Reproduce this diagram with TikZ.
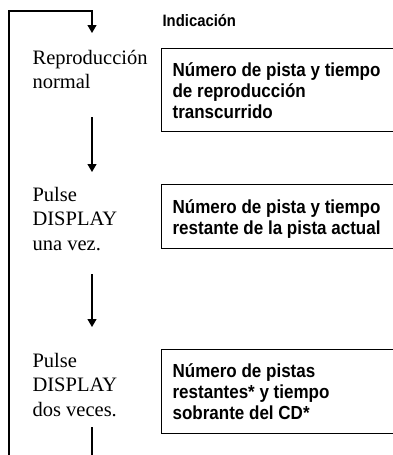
\documentclass[tikz,border=0pt]{standalone}
\usepackage{fontspec}
\setmainfont{Liberation Serif}
\newfontfamily\boxfont[FakeStretch=0.9]{Liberation Sans}
\usetikzlibrary{arrows.meta}
\begin{document}
\begin{tikzpicture}[x=1pt,y=-1pt,line width=1.2pt,
  flow/.style={-{Triangle[length=8pt,width=9pt]}},
  steplabel/.style={anchor=base west,inner sep=0pt,align=left,font=\fontsize{20.5}{24.5}\selectfont},
  panel/.style={draw,anchor=north west,minimum width=260pt,inner sep=0pt},
  paneltext/.style={anchor=base west,inner sep=0pt,align=left,font=\boxfont\bfseries\fontsize{18.9}{21}\selectfont}]
\clip (0,0) rectangle (393,455);
\fill[white] (0,0) rectangle (393,455);
% loop line
\coordinate (lb) at (9,460);
\coordinate (lt) at (9,11);
\coordinate (rt) at (92,11);
\coordinate (a0) at (92,33);
\draw[flow] (lb) -- (lt) -- (rt) -- (a0);
% step labels (base anchor = last line)
\node[steplabel] (s1) at (32,88.5) {Reproducción\\normal};
\node[steplabel] (s2) at (32,250) {Pulse\\DISPLAY\\una vez.};
\node[steplabel] (s3) at (32,416) {Pulse\\DISPLAY\\dos veces.};
% connectors
\coordinate (a1s) at (92,117);
\coordinate (a1e) at (92,172);
\coordinate (a2s) at (92,274);
\coordinate (a2e) at (92,327);
\coordinate (a3s) at (92,427);
\coordinate (a3e) at (92,460);
\draw[flow] (a1s) -- (a1e);
\draw[flow] (a2s) -- (a2e);
\draw (a3s) -- (a3e);
% heading
\node[anchor=base west,inner sep=0pt,font=\boxfont\bfseries\fontsize{16.5}{20}\selectfont] (ind) at (162,27) {Indicación};
% panels
\node[panel,minimum height=83pt] (b1) at (161,48) {};
\node[panel,minimum height=64pt] (b2) at (161,184) {};
\node[panel,minimum height=84pt] (b3) at (161,349) {};
\node[paneltext] (t1) at (172,118) {Número de pista y tiempo\\de reproducción\\transcurrido};
\node[paneltext] (t2) at (172,234) {Número de pista y tiempo\\restante de la pista actual};
\node[paneltext] (t3) at (172,419) {Número de pistas\\restantes* y tiempo\\sobrante del CD*};
\end{tikzpicture}
\end{document}
